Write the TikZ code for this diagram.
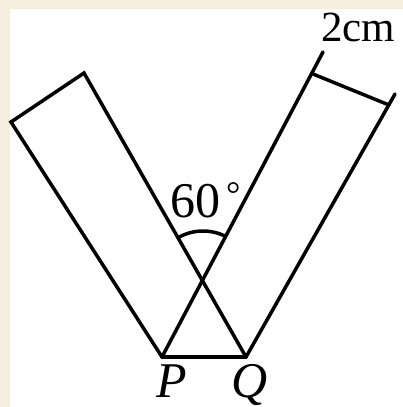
\documentclass[tikz,border=0pt]{standalone}
\usepackage{fontspec}
\setmainfont{Liberation Serif}
\definecolor{beige}{RGB}{245,237,221}
\begin{document}
\begin{tikzpicture}[x=1pt,y=-1pt,
  edge/.style={line width=3.5pt,line cap=round,line join=miter},
  lbl/.style={inner sep=0pt,anchor=base west,font=\fontsize{50}{50}\selectfont}]
\fill[beige] (0,0) rectangle (403,407);
\fill[white] (10,9) rectangle (403,407);
\useasboundingbox (0,0) rectangle (403,407);
% points
\coordinate (P) at (162,357);
\coordinate (Q) at (246,357);
\coordinate (L1) at (11,122);
\coordinate (L2) at (84,73);
\coordinate (R1) at (313,74);
\coordinate (R2) at (389,105);
\coordinate (E1) at (323,52);
\coordinate (E2) at (395,94);
\coordinate (X) at (203,281);
% left strip
\draw[edge] (Q) -- (L2) -- (L1) -- (P);
% right strip
\draw[edge] (P) -- (E1);
\draw[edge] (Q) -- (E2);
\draw[edge] (R1) -- (R2);
\draw[edge] (P) -- (Q);
% angle arc
\draw[edge,line cap=butt] ([shift={(-62:50)}]X) arc[start angle=-62,end angle=-119.7,radius=50];
% labels
\node[lbl] (ang) at (170,217) {60\hspace{6pt}{\fontsize{36}{36}\selectfont\raisebox{11pt}{°}}};
\node[lbl,font=\fontsize{43}{43}\selectfont] (cm) at (321,41) {2cm};
\node[lbl] (p) at (156,397) {\itshape P};
\node[lbl] (q) at (231,397) {\itshape Q};
\end{tikzpicture}
\end{document}
